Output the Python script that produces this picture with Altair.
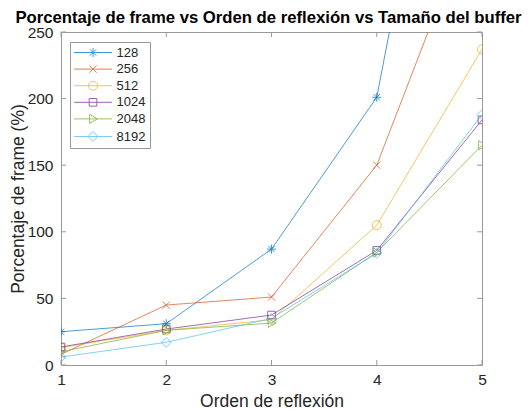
import altair as alt
import pandas as pd

# ---- data ----
orden = [1, 2, 3, 4, 5]
buffers = ["128", "256", "512", "1024", "2048", "8192"]
v128 = [25, 31, 87, 201, 610]
v256 = [8, 45, 51, 150, 355]
v512 = [13, 26, 34, 105, 237]
v1024 = [13.5, 27, 37.5, 86, 184]
v2048 = [10, 26, 31.5, 84.5, 165]
v8192 = [6, 17, 35, 84, 188]
x_ticks = [1, 2, 3, 4, 5]
y_ticks = [0, 50, 100, 150, 200, 250]

colors = ["#0072BD", "#D95319", "#EDB120", "#7E2F8E", "#77AC30", "#4DBEEE"]

series = [v128, v256, v512, v1024, v2048, v8192]
rows = []
for b, vals in zip(buffers, series):
    for o, v in zip(orden, vals):
        rows.append({"buffer": b, "orden": o, "pct": v})
df = pd.DataFrame(rows)

# marker shapes (MATLAB: *, x, o, s, >, d)
markers = [
    "M-1,0L1,0M0,-1L0,1M-0.7,-0.7L0.7,0.7M-0.7,0.7L0.7,-0.7",
    "M-0.8,-0.8L0.8,0.8M-0.8,0.8L0.8,-0.8",
    "M1,0A1,1,0,1,1,-1,0A1,1,0,1,1,1,0Z",
    "M-0.85,-0.85L0.85,-0.85L0.85,0.85L-0.85,0.85Z",
    "M-0.75,-1L1,0L-0.75,1Z",
    "M0,-1.1L1.1,0L0,1.1L-1.1,0Z",
]
legend_shapes = ["M-4.2,0L4.2,0" + m for m in markers]

W, H = 421, 333
FONT = "Liberation Sans"
AX = "#999999"
TXT = "#262626"

x_axis = alt.Axis(values=x_ticks, format="d", grid=False, ticks=False, tickSize=0,
                  domain=False, labelFlush=False, labelFontSize=15.5, labelColor=TXT,
                  labelPadding=7, title="Orden de reflexión", titleFontSize=17.5,
                  titleFontWeight="normal", titleColor=TXT, titleX=W / 2, titleY=41,
                  titleBaseline="alphabetic")
y_axis = alt.Axis(values=y_ticks, format="d", grid=False, ticks=False, tickSize=0,
                  domain=False, labelFlush=False, labelFontSize=15.5, labelColor=TXT,
                  labelPadding=8, title="Porcentaje de frame (%)", titleFontSize=17.5,
                  titleFontWeight="normal", titleColor=TXT, titleX=-43, titleY=H / 2,
                  titleAngle=-90, titleAlign="center", titleBaseline="middle")

xs = alt.Scale(domain=[1, 5], nice=False, zero=False)
ys = alt.Scale(domain=[0, 250], nice=False)

X = alt.X("orden:Q", scale=xs, axis=x_axis)
Y = alt.Y("pct:Q", scale=ys, axis=y_axis)

color_scale = alt.Scale(domain=buffers, range=colors)

lines = alt.Chart(df).mark_line(clip=True, strokeWidth=1, opacity=0.7).encode(
    x=X, y=Y, color=alt.Color("buffer:N", scale=color_scale, legend=None)
)
points = alt.Chart(df).mark_point(clip=True, filled=False, size=81, strokeWidth=1, opacity=0.75).encode(
    x=X, y=Y,
    color=alt.Color("buffer:N", scale=color_scale, legend=None),
    shape=alt.Shape("buffer:N", scale=alt.Scale(domain=buffers, range=markers), legend=None),
)

leg = alt.Legend(title=None, orient="none", legendX=9, legendY=10, padding=4,
                 fillColor="white", strokeColor=AX, symbolSize=81, symbolStrokeWidth=1,
                 symbolOffset=12.5, labelOffset=17, labelFontSize=13, labelColor=TXT,
                 labelFont=FONT, rowPadding=2.6, symbolOpacity=0.75)
legend_layer = alt.Chart(df).transform_filter("false").mark_point(filled=False, size=81, strokeWidth=1).encode(
    color=alt.Color("buffer:N", scale=color_scale, legend=leg),
    shape=alt.Shape("buffer:N", scale=alt.Scale(domain=buffers, range=legend_shapes), legend=leg),
)

xt = pd.DataFrame({"orden": x_ticks})
yt = pd.DataFrame({"pct": y_ticks})
tick_bottom = alt.Chart(xt).mark_rule(color=AX, strokeWidth=1).encode(x=X, y=alt.value(H), y2=alt.value(H - 5))
tick_top = alt.Chart(xt).mark_rule(color=AX, strokeWidth=1).encode(x=X, y=alt.value(0), y2=alt.value(5))
tick_left = alt.Chart(yt).mark_rule(color=AX, strokeWidth=1).encode(y=Y, x=alt.value(0), x2=alt.value(5))
tick_right = alt.Chart(yt).mark_rule(color=AX, strokeWidth=1).encode(y=Y, x=alt.value(W), x2=alt.value(W - 5))

chart = alt.layer(
    tick_bottom, tick_top, tick_left, tick_right, lines, points, legend_layer
).resolve_scale(
    color="independent", shape="independent"
).resolve_legend(
    color="independent", shape="independent"
).properties(
    width=W, height=H,
    title=alt.TitleParams("Porcentaje de frame vs Orden de reflexión vs Tamaño del buffer",
                          fontSize=16.7, fontWeight="bold", font=FONT, color="black",
                          anchor="middle", frame="group", baseline="bottom", offset=4,
                          dy=23, dx=-3),
    padding={"left": 53, "top": 24, "right": 41, "bottom": 45},
    autosize=alt.AutoSizeParams(type="none"),
).configure(font=FONT).configure_view(stroke=AX, strokeWidth=1)

chart.save("out.html", embed_options={"renderer": "svg", "actions": False})
